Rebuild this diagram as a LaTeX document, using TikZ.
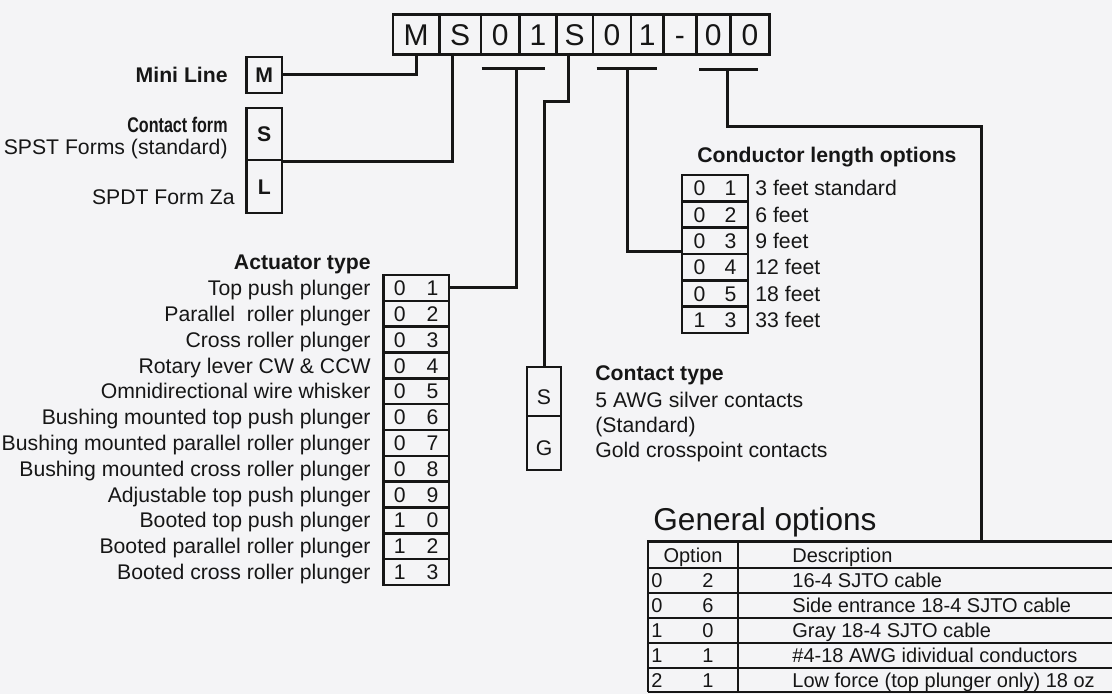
\documentclass[tikz,border=0pt]{standalone}
\usepackage{fontspec}
\setmainfont{Liberation Sans}
\definecolor{bg}{RGB}{244,244,246}
\definecolor{ink}{RGB}{22,22,22}
\begin{document}
\begin{tikzpicture}[x=0.5pt,y=-0.5pt,
  every node/.style={text=ink},
  conn/.style={draw=ink,line width=1.5pt,line join=miter},
  box/.style={draw=ink,line width=1.25pt,inner sep=0pt},
  codebox/.style={box,line width=1.3pt,minimum height=19.75pt,anchor=north west,font=\fontsize{15}{16}\selectfont,text height=10.7pt,text depth=0pt},
  lbl/.style={inner sep=0pt,font=\fontsize{10.6}{12}\selectfont,text height=7.6pt,text depth=0pt},
  blbl/.style={lbl,font=\fontsize{10.6}{12}\selectfont\bfseries},
  tlbl/.style={inner sep=0pt,font=\fontsize{10}{12}\selectfont,text height=7.2pt,text depth=0pt},
  cell/.style={box,font=\fontsize{10.6}{12}\selectfont,text height=7.6pt,text depth=0pt},
  bcell/.style={cell,font=\fontsize{10.6}{12}\selectfont\bfseries},
]
\fill[bg] (0,0) rectangle (1112,694);
\useasboundingbox (0,0) rectangle (1112,694);

% --- code boxes ---
\foreach \l/\r/\t [count=\i] in {391.5/438/M,438/479.5/S,479.5/518.3/0,518.3/555/1,555/591.7/S,591.7/629.7/0,629.7/662.2/1,662.2/695/-,695/729/0,729/768.3/0}{
  \pgfmathsetmacro\w{(\r-\l)/2}
  \node[codebox,minimum width=\w pt] (c\i) at (\l,13.5) {\t};
}

% --- Mini line / contact form ---
\node[bcell,minimum width=17.75pt,minimum height=18pt] (mbox) at (264.25,75) {M};
\node[bcell,minimum width=17.75pt,minimum height=26pt] (sbox) at (264.25,134) {S};
\node[bcell,minimum width=17.75pt,minimum height=26.5pt] (lbox) at (264.25,186.5) {L};
\node[blbl,anchor=east] (tmini) at (228,75) {Mini Line};
\node[blbl,anchor=east] (tcf) at (228,125) {\scalebox{0.76}[1]{Contact form}};
\node[lbl,anchor=east] (tspst) at (228,147) {SPST Forms (standard)};
\node[lbl,anchor=east] (tspdt) at (235,197) {SPDT Form Za};

\coordinate (sdrop) at (452,53);
\draw[conn] (c1.south) |- (mbox.east);
\draw[conn] (sdrop) |- (sbox.south east);

% --- actuator ---
\coordinate (actL) at (481.7,69);
\coordinate (actR) at (545,69);
\coordinate (actD) at (516,69);
\draw[conn] (actL) -- (actR);
\node[blbl,anchor=east] (tact) at (371,262) {Actuator type};
\foreach \p/\q/\t [count=\i] in {0/1/Top push plunger,0/2/Parallel\ \ roller plunger,0/3/Cross roller plunger,0/4/Rotary lever CW \& CCW,0/5/Omnidirectional wire whisker,0/6/Bushing mounted top push plunger,0/7/Bushing mounted parallel roller plunger,0/8/Bushing mounted cross roller plunger,0/9/Adjustable top push plunger,1/0/Booted top push plunger,1/2/Booted parallel roller plunger,1/3/Booted cross roller plunger}{
  \pgfmathsetmacro\yy{275+(\i-0.5)*25.83}
  \node[cell,minimum width=32.75pt,minimum height=12.915pt] (a\i) at (416.25,\yy) {\p\hspace{10.5pt}\q};
  \node[lbl,anchor=east] (at\i) at (371,\yy) {\t};
}
\draw[conn] (actD) |- (a1.east);

% --- contact type ---
\coordinate (ctop) at (568,53);
\coordinate (cturn) at (568,102);
\node[cell,minimum width=17pt,minimum height=24.5pt,text height=12.6pt] (cs) at (544,391.5) {S};
\node[cell,minimum width=17pt,minimum height=27pt,text height=12.6pt] (cg) at (544,443) {G};
\draw[conn] (ctop) -- (cturn) -| (cs.north);
\node[blbl,anchor=west] (tct) at (595,373) {Contact type};
\node[lbl,anchor=west] (tct1) at (595,400) {5 AWG silver contacts};
\node[lbl,anchor=west] (tct2) at (595,425) {(Standard)};
\node[lbl,anchor=west] (tct3) at (595,450) {Gold crosspoint contacts};

% --- conductor length ---
\coordinate (lenL) at (596.7,69);
\coordinate (lenR) at (656.7,69);
\coordinate (lenD) at (627,69);
\draw[conn] (lenL) -- (lenR);
\node[blbl,anchor=west] (tcl) at (697,155) {Conductor length options};
\foreach \p/\q/\t [count=\i] in {0/1/3 feet standard,0/2/6 feet,0/3/9 feet,0/4/12 feet,0/5/18 feet,1/3/33 feet}{
  \pgfmathsetmacro\yy{175+(\i-0.5)*26.33}
  \node[cell,minimum width=33pt,minimum height=13.165pt] (l\i) at (715,\yy) {\p\hspace{9.5pt}\q};
  \node[lbl,anchor=west] (lt\i) at (755,\yy) {\t};
}
\draw[conn] (lenD) |- ([yshift=2pt]l3.south west);

% --- general options ---
\coordinate (genL) at (699,70);
\coordinate (genR) at (758,70);
\coordinate (genD) at (727,70);
\coordinate (tabtop) at (981,541.7);
\draw[conn] (genL) -- (genR);
\draw[conn] (genD) -- ++(0,57) -| (tabtop);
\node[anchor=base west,inner sep=0pt,font=\fontsize{15.8}{18}\selectfont] (gtitle) at (653,530) {General options};

\draw[box] (648,692) -- (648,541.7) -- (1112,541.7);
\foreach \yy in {568,593,618,643,668,692}{
  \draw[box] (648,\yy) -- (1112,\yy);
}
\draw[box] (738,541.7) -- (738,692);
\node[tlbl] (hopt) at (693,555) {Option};
\node[tlbl,anchor=west] (hdesc) at (792,555) {Description};
\foreach \p/\q/\t [count=\i] in {0/2/16-4 SJTO cable,0/6/Side entrance 18-4 SJTO cable,1/0/Gray 18-4 SJTO cable,1/1/\#4-18 AWG idividual conductors,2/1/Low force (top plunger only) 18 oz}{
  \pgfmathsetmacro\yy{580.5+(\i-1)*25}
  \node[tlbl,anchor=west] (gp\i) at (651,\yy) {\p};
  \node[tlbl] (gq\i) at (708,\yy) {\q};
  \node[tlbl,anchor=west] (gt\i) at (792,\yy) {\t};
}
\end{tikzpicture}
\end{document}
